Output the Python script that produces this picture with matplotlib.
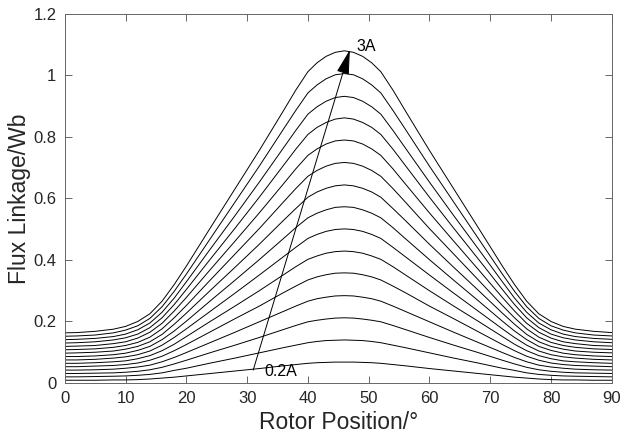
import numpy as np
import matplotlib
matplotlib.use("Agg")
import matplotlib.pyplot as plt

plt.rcParams['font.family'] = ['Liberation Sans', 'DejaVu Sans']

# rotor position (deg)
rotor_pos = [0, 2, 5, 8, 10, 12, 14, 16, 18, 20, 24, 28, 32, 36, 38, 40, 41.5, 43, 44.5, 46,
             47.5, 49, 50.5, 52, 54, 56, 60, 64, 68, 72, 74, 76, 78, 80, 82, 84, 87, 90]

# flux linkage (Wb) for phase current 0.2A ... 3A
psi_0p2 = [.009, .009, .009, .010, .010, .011, .013, .016, .019, .023, .031, .039, .047, .056, .060, .064, .066, .067, .068, .068,
           .068, .067, .066, .064, .060, .056, .047, .039, .031, .023, .019, .016, .013, .011, .010, .010, .009, .009]
psi_0p4 = [.020, .020, .021, .022, .023, .025, .028, .033, .041, .048, .065, .081, .098, .115, .123, .131, .135, .138, .139, .140,
           .139, .138, .135, .131, .123, .115, .098, .081, .065, .048, .041, .033, .028, .025, .023, .022, .021, .020]
psi_0p6 = [.031, .031, .032, .033, .035, .038, .043, .051, .062, .074, .099, .123, .148, .174, .187, .199, .204, .208, .211, .212,
           .211, .208, .204, .199, .187, .174, .148, .123, .099, .074, .062, .051, .043, .038, .035, .033, .032, .031]
psi_0p8 = [.042, .042, .043, .045, .048, .052, .058, .069, .083, .099, .132, .165, .199, .233, .250, .266, .274, .279, .283, .284,
           .283, .279, .274, .266, .250, .233, .199, .165, .132, .099, .083, .069, .058, .052, .048, .045, .043, .042]
psi_1p0 = [.053, .053, .055, .057, .060, .065, .074, .087, .105, .125, .167, .209, .250, .294, .315, .335, .345, .352, .357, .358,
           .357, .352, .345, .335, .315, .294, .250, .209, .167, .125, .105, .087, .074, .065, .060, .057, .055, .053]
psi_1p2 = [.064, .064, .066, .069, .072, .079, .089, .105, .126, .151, .201, .250, .300, .352, .378, .402, .413, .422, .427, .429,
           .427, .422, .413, .402, .378, .352, .300, .250, .201, .151, .126, .105, .089, .079, .072, .069, .066, .064]
psi_1p4 = [.075, .075, .077, .081, .085, .092, .104, .123, .148, .176, .234, .292, .351, .411, .441, .470, .483, .493, .499, .501,
           .499, .493, .483, .470, .441, .411, .351, .292, .234, .176, .148, .123, .104, .092, .085, .081, .077, .075]
psi_1p6 = [.086, .086, .088, .092, .097, .106, .119, .141, .169, .201, .268, .334, .401, .470, .505, .537, .552, .563, .571, .573,
           .571, .563, .552, .537, .505, .470, .401, .334, .268, .201, .169, .141, .119, .106, .097, .092, .088, .086]
psi_1p8 = [.097, .098, .100, .104, .110, .119, .134, .158, .191, .227, .302, .376, .451, .529, .567, .604, .621, .633, .641, .644,
           .641, .633, .621, .604, .567, .529, .451, .376, .302, .227, .191, .158, .134, .119, .110, .104, .100, .098]
psi_2p0 = [.108, .109, .111, .116, .122, .132, .149, .176, .212, .252, .336, .419, .502, .589, .632, .672, .691, .705, .714, .717,
           .714, .705, .691, .672, .632, .589, .502, .419, .336, .252, .212, .176, .149, .132, .122, .116, .111, .109]
psi_2p2 = [.119, .120, .122, .128, .134, .146, .165, .194, .234, .278, .370, .461, .553, .648, .696, .740, .761, .777, .787, .790,
           .787, .777, .761, .740, .696, .648, .553, .461, .370, .278, .234, .194, .165, .146, .134, .128, .122, .120]
psi_2p4 = [.130, .131, .134, .140, .147, .159, .180, .212, .255, .304, .404, .503, .604, .708, .760, .808, .831, .847, .858, .862,
           .858, .847, .831, .808, .760, .708, .604, .503, .404, .304, .255, .212, .180, .159, .147, .140, .134, .131]
psi_2p6 = [.141, .142, .145, .151, .159, .173, .195, .230, .276, .329, .437, .544, .653, .765, .821, .874, .898, .916, .928, .932,
           .928, .916, .898, .874, .821, .765, .653, .544, .437, .329, .276, .230, .195, .173, .159, .151, .145, .142]
psi_2p8 = [.152, .153, .156, .163, .172, .186, .210, .248, .298, .354, .471, .588, .705, .826, .886, .943, .969, .989, 1.002, 1.006,
           1.002, .989, .969, .943, .886, .826, .705, .588, .471, .354, .298, .248, .210, .186, .172, .163, .156, .153]
psi_3p0 = [.163, .164, .168, .175, .184, .200, .225, .266, .320, .380, .506, .631, .756, .886, .952, 1.012, 1.041, 1.062, 1.075, 1.080,
           1.075, 1.062, 1.041, 1.012, .952, .886, .756, .631, .506, .380, .320, .266, .225, .200, .184, .175, .168, .164]

curves = [psi_0p2, psi_0p4, psi_0p6, psi_0p8, psi_1p0, psi_1p2, psi_1p4, psi_1p6,
          psi_1p8, psi_2p0, psi_2p2, psi_2p4, psi_2p6, psi_2p8, psi_3p0]

x_ticks = [0, 10, 20, 30, 40, 50, 60, 70, 80, 90]
y_ticks = [0, 0.2, 0.4, 0.6, 0.8, 1.0, 1.2]
y_tick_labels = ['0', '0.2', '0.4', '0.6', '0.8', '1', '1.2']

fig = plt.figure(figsize=(6.23, 4.34), dpi=100)
ax = fig.add_axes([0.104, 0.1175, 0.878, 0.8505])

for psi in curves:
    ax.plot(rotor_pos, psi, color='black', linewidth=0.7)

# arrow showing increasing current
ax.annotate('', xy=(46.9, 1.083), xytext=(31.0, 0.042),
            arrowprops=dict(arrowstyle='-|>,head_length=1.1,head_width=0.28',
                            color='black', lw=0.7, mutation_scale=14,
                            shrinkA=0, shrinkB=0))
ax.text(48.0, 1.095, '3A', fontsize=11.5, va='center', ha='left')
ax.text(32.8, 0.036, '0.2A', fontsize=11.5, va='center', ha='left')

ax.set_xlim(0, 90)
ax.set_ylim(0, 1.2)
ax.set_xticks(x_ticks)
ax.set_yticks(y_ticks)
ax.set_yticklabels(y_tick_labels)

gray = '#262626'
for sp in ax.spines.values():
    sp.set_color('#666666')
    sp.set_linewidth(0.7)
ax.tick_params(direction='in', length=5, width=0.7, color='#666666',
               top=True, right=True, labelsize=12, labelcolor=gray, pad=6)

ax.set_xlabel('Rotor Position/°', fontsize=16.5, color=gray, labelpad=3)
ax.set_ylabel('Flux Linkage/Wb', fontsize=16.5, color=gray, labelpad=2)

fig.savefig('out.png', dpi=100)
